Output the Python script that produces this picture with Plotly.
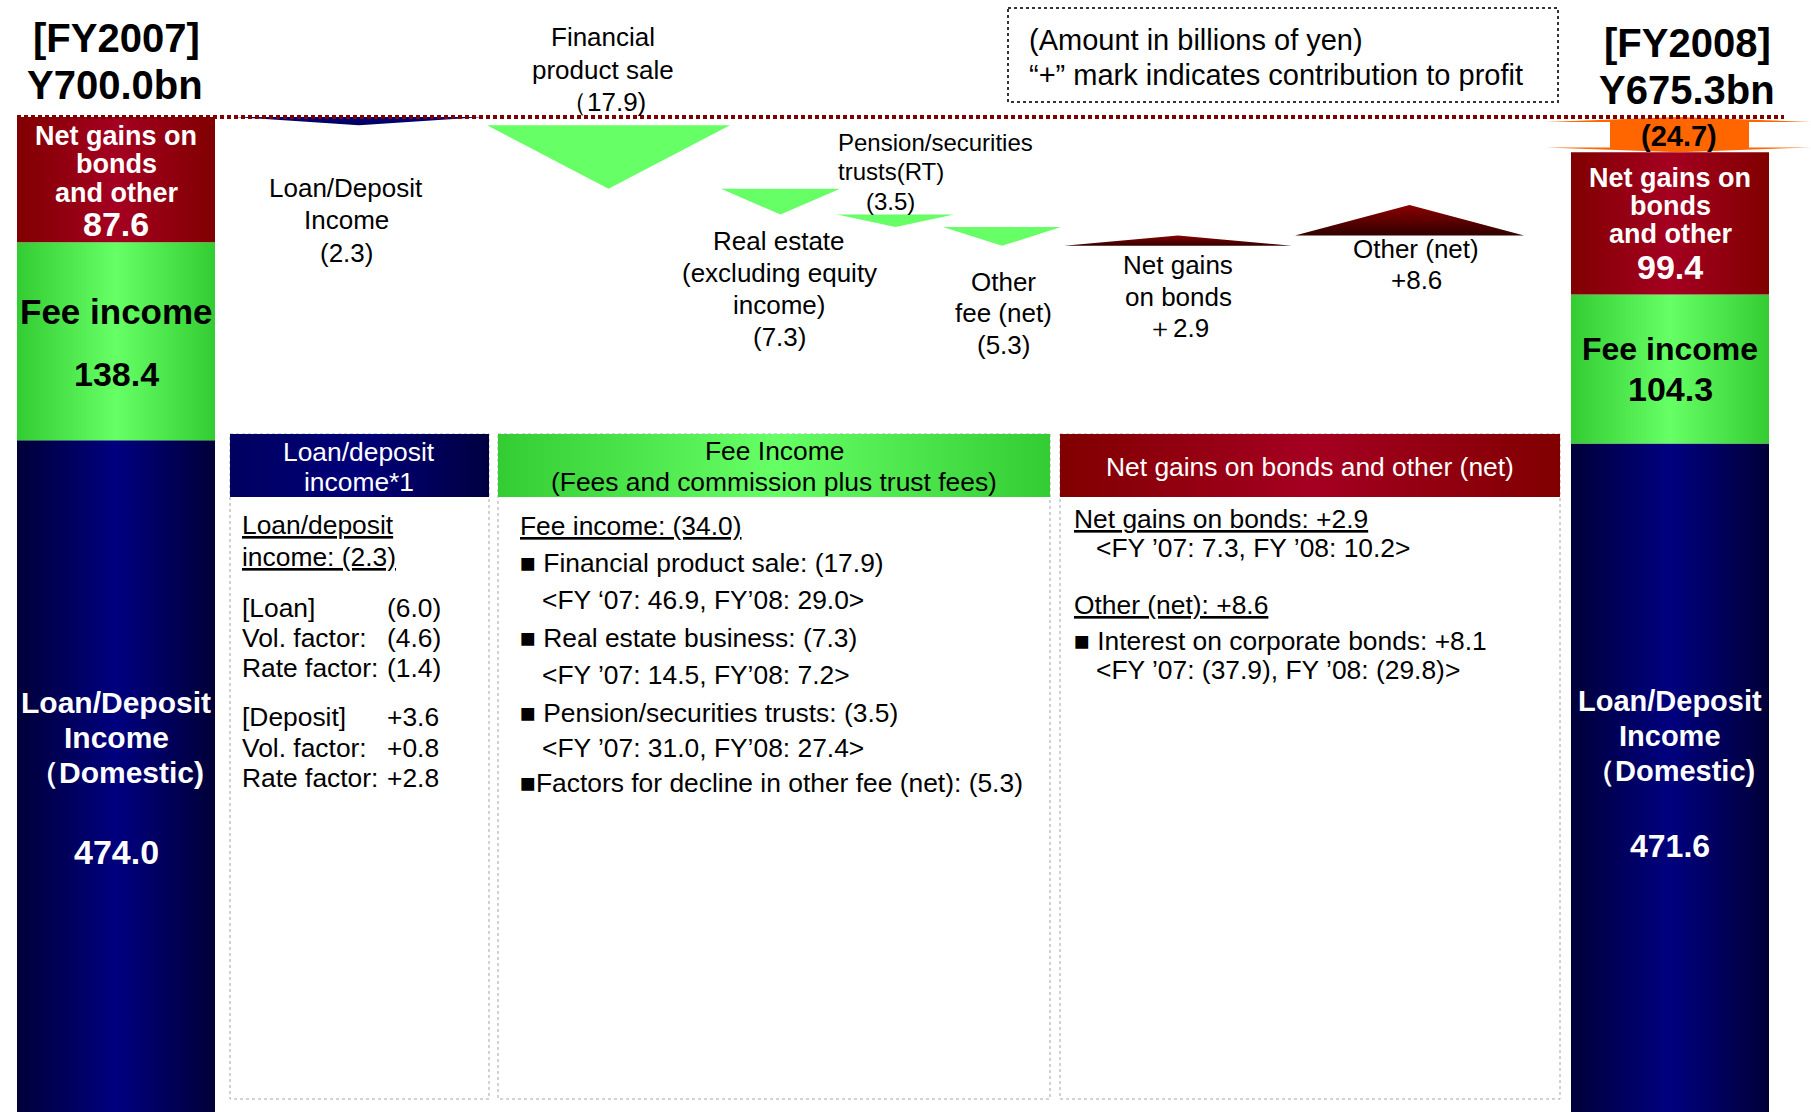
import plotly.graph_objects as go

# Net business profit bridge, FY2007 -> FY2008 (billions of yen)
years = ["[FY2007]", "[FY2008]"]
totals = [700.0, 675.3]
loan_deposit = [474.0, 471.6]
fee_income = [138.4, 104.3]
net_gains = [87.6, 99.4]

step_names = [
    ["Loan/Deposit", "Income"],
    ["Financial", "product sale"],
    ["Real estate", "(excluding equity", "income)"],
    ["Pension/securities", "trusts(RT)"],
    ["Other", "fee (net)"],
    ["Net gains", "on bonds"],
    ["Other (net)"],
]
step_values = [-2.3, -17.9, -7.3, -3.5, -5.3, 2.9, 8.6]
step_groups = ["loan", "fee", "fee", "fee", "fee", "net", "net"]
total_change = -24.7

loan_detail = ["<u>Loan/deposit</u>", "<u>income: (2.3)</u>", "[Loan]", "Vol. factor:",
               "Rate factor:", "[Deposit]", "Vol. factor:", "Rate factor:"]
loan_detail_values = ["", "", "(6.0)", "(4.6)", "(1.4)", "+3.6", "+0.8", "+2.8"]
fee_detail = [
    "<u>Fee income: (34.0)</u>",
    "■ Financial product sale: (17.9)",
    "&lt;FY ‘07: 46.9, FY’08: 29.0&gt;",
    "■ Real estate business: (7.3)",
    "&lt;FY ’07: 14.5, FY’08: 7.2&gt;",
    "■ Pension/securities trusts: (3.5)",
    "&lt;FY ’07: 31.0, FY’08: 27.4&gt;",
    "■Factors for decline in other fee (net): (5.3)",
]
net_detail = [
    "<u>Net gains on bonds: +2.9</u>",
    "&lt;FY ’07: 7.3, FY ’08: 10.2&gt;",
    "<u>Other (net): +8.6</u>",
    "■ Interest on corporate bonds: +8.1",
    "&lt;FY ’07: (37.9), FY ’08: (29.8)&gt;",
]

# ---- layout / style constants (pixels) ----
W, H = 1811, 1112
BASE_PX = 117          # pixel row of the FY2007 total line
BAR_SCALE = 1.43       # px per bn on the stacked bars
STEP_SCALE = 3.55      # px per bn on the change triangles
FONT = "Liberation Sans, Arial, sans-serif"
BODY = 26.4

bar_x = [(17, 215), (1571, 1769)]
step_x = [(234, 484), (487, 730), (721, 840), (837, 954), (943, 1061), (1064, 1292), (1295, 1524)]
step_label_x = [346, 603, 779, 836, 1003, 1178, 1416]
step_label_y = [[188, 220, 253], [37, 70, 102], [241, 273, 305, 337], [142, 171, 201],
                [282, 313, 345], [265, 297, 328], [249, 280]]
step_open = ["(", "（", "(", "(", "(", "＋", "+"]

panel_x = [(230, 489), (498, 1050), (1060, 1560)]
PANEL_TOP, PANEL_HEAD, PANEL_BOTTOM = 434, 497, 1099

NAVY = [[0, "#000038"], [0.5, "#000080"], [1, "#000038"]]
GREEN = [[0, "#33CC33"], [0.5, "#66FF66"], [1, "#33CC33"]]
RED = [[0, "#800000"], [0.5, "#A50021"], [1, "#800000"]]

fig = go.Figure()


def poly(xs, ys, yaxis="y", colorscale=None, color=None, gtype="horizontal"):
    kw = dict(x=xs, y=ys, yaxis=yaxis, mode="lines", fill="toself",
              line=dict(width=0), hoverinfo="skip", showlegend=False)
    if colorscale is not None:
        kw["fillgradient"] = dict(type=gtype, colorscale=colorscale)
    else:
        kw["fillcolor"] = color
    fig.add_trace(go.Scatter(**kw))


def label(x, y, text, size=26, color="black", bold=False, xanchor="center",
          yref="y3", yshift=0):
    if bold:
        text = f"<b>{text}</b>"
    fig.add_annotation(x=x, y=y, xref="x", yref=yref, text=text, showarrow=False,
                       xanchor=xanchor, yanchor="middle", yshift=yshift,
                       font=dict(size=size, color=color, family=FONT))


# ---- stacked bars for the two fiscal years ----
red_offsets = [[-44, -16, 13, 44], [-45, -17, 11, 44]]
fee_offsets = [[-30, 33], [-20, 20]]
fee_sizes = [35, 32]
navy_offsets = [[262, 297, 332, 412], [257, 292, 327, 402]]
navy_sizes = [[30, 30, 30, 34], [29, 29, 29, 32]]

for i in range(2):
    x0, x1 = bar_x[i]
    xc = (x0 + x1) / 2
    b1 = loan_deposit[i]
    b2 = b1 + fee_income[i]
    b3 = b2 + net_gains[i]
    poly([x0, x1, x1, x0, x0], [0, 0, b1, b1, 0], colorscale=NAVY)
    poly([x0, x1, x1, x0, x0], [b1, b1, b2, b2, b1], colorscale=GREEN)
    poly([x0, x1, x1, x0, x0], [b2, b2, b3, b3, b2], colorscale=RED)

    mid_red = (b2 + b3) / 2
    for txt, off, sz in zip(["Net gains on", "bonds", "and other", f"{net_gains[i]:.1f}"],
                            red_offsets[i], [27, 27, 27, 34]):
        label(xc, mid_red, txt, size=sz, color="white", bold=True, yref="y", yshift=-off)
    mid_fee = (b1 + b2) / 2
    for txt, off, sz in zip(["Fee income", f"{fee_income[i]:.1f}"], fee_offsets[i],
                            [fee_sizes[i], 34]):
        label(xc, mid_fee, txt, size=sz, bold=True, yref="y", yshift=-off)
    for txt, off, sz in zip(["Loan/Deposit", "Income", "（Domestic)", f"{loan_deposit[i]:.1f}"],
                            navy_offsets[i], navy_sizes[i]):
        label(xc, b1, txt, size=sz, color="white", bold=True, yref="y", yshift=-off)

# year headers
label(116, 38, years[0], size=40, bold=True)
label(115, 85, f"Y{totals[0]:.1f}bn", size=40, bold=True)
label(1687, 43, years[1], size=40, bold=True)
label(1687, 90, f"Y{totals[1]:.1f}bn", size=40, bold=True)

# ---- change triangles (waterfall of the steps) ----
level = totals[0]
for i, v in enumerate(step_values):
    x0, x1 = step_x[i]
    xm = (x0 + x1) / 2
    xs = [x0, x1, xm, x0]
    ys = [level, level, level + v, level]
    g = step_groups[i]
    if g == "loan":
        poly(xs, ys, yaxis="y2", colorscale=[[0, "#00005A"], [1, "#000080"]], gtype="vertical")
    elif g == "fee":
        poly(xs, ys, yaxis="y2", color="#66FF66")
    else:
        poly(xs, ys, yaxis="y2", colorscale=[[0, "#300000"], [1, "#8B0000"]], gtype="vertical")
    level += v

    value_txt = (f"{step_open[i]}{abs(v):.1f})" if v < 0 else f"{step_open[i]}{v:.1f}")
    lines = step_names[i] + [value_txt]
    ys_px = step_label_y[i]
    if i == 3:
        label(step_label_x[i], ys_px[0], lines[0], size=24, xanchor="left")
        label(step_label_x[i], ys_px[1], lines[1], size=24, xanchor="left")
        label(890, ys_px[2], lines[2], size=24)
    else:
        for txt, yp in zip(lines, ys_px):
            label(step_label_x[i], yp, txt)

# ---- total change arrow between the two totals ----
hi, lo = totals[0], totals[0] + total_change
head = (hi - lo) * 0.14
ac, b0, b1_, w0, w1 = 1679, 1610, 1749, 1546, 1811
poly([ac, w1, b1_, b1_, w1, ac, w0, b0, b0, w0, ac],
     [hi, hi - head, hi - head, lo + head, lo + head, lo, lo + head, lo + head,
      hi - head, hi - head, hi], color="#FF6600")
label(ac, (hi + lo) / 2, f"({abs(total_change):.1f})", size=29, bold=True, yref="y", yshift=-1)

# total line at the FY2007 level
fig.add_shape(type="line", xref="x", yref="y", x0=17, x1=1784, y0=totals[0], y1=totals[0],
              line=dict(color="#800000", width=4, dash="4px,3px"))

# ---- explanation panels ----
heads = [[[0, "#000060"], [0.5, "#00007A"], [1, "#000040"]], GREEN, RED]
for (x0, x1), cs in zip(panel_x, heads):
    fig.add_shape(type="rect", xref="x", yref="y3", x0=x0, x1=x1, y0=PANEL_TOP, y1=PANEL_BOTTOM,
                  line=dict(color="#A6A6A6", width=1, dash="dot"), layer="below")
    poly([x0, x1, x1, x0, x0], [PANEL_TOP, PANEL_TOP, PANEL_HEAD, PANEL_HEAD, PANEL_TOP],
         yaxis="y3", colorscale=cs)

label(359, 452, "Loan/deposit", size=BODY, color="white")
label(359, 482, "income*1", size=BODY, color="white")
label(774, 451, "Fee Income", size=BODY)
label(774, 482, "(Fees and commission plus trust fees)", size=BODY)
label(1310, 467, "Net gains on bonds and other (net)", size=BODY, color="white")

loan_y = [525, 557, 608, 638, 668, 717, 748, 778]
for txt, val, yp in zip(loan_detail, loan_detail_values, loan_y):
    label(240, yp, txt, size=BODY, xanchor="left")
    if val:
        label(385, yp, val, size=BODY, xanchor="left")

fee_y = [526, 563, 600, 638, 675, 713, 748, 783]
fee_indent = [0, 0, 1, 0, 1, 0, 1, 0]
for txt, yp, ind in zip(fee_detail, fee_y, fee_indent):
    label(540 if ind else 518, yp, txt, size=BODY, xanchor="left")

net_y = [519, 548, 605, 641, 670]
net_indent = [0, 1, 0, 0, 1]
for txt, yp, ind in zip(net_detail, net_y, net_indent):
    label(1094 if ind else 1072, yp, txt, size=BODY, xanchor="left")

# unit note
fig.add_shape(type="rect", xref="x", yref="y3", x0=1008, x1=1558, y0=8, y1=102,
              line=dict(color="#333333", width=2, dash="dot"))
label(1027, 40, "(Amount in billions of yen)", size=29, xanchor="left")
label(1027, 75, "“+” mark indicates contribution to profit", size=29, xanchor="left")

y_range = [totals[0] - (H - BASE_PX) / BAR_SCALE, totals[0] + BASE_PX / BAR_SCALE]
y2_range = [totals[0] - (H - BASE_PX) / STEP_SCALE, totals[0] + BASE_PX / STEP_SCALE]

fig.update_layout(
    width=W, height=H, margin=dict(l=0, r=0, t=0, b=0),
    paper_bgcolor="white", plot_bgcolor="white", showlegend=False,
    xaxis=dict(range=[0, W], visible=False, fixedrange=True),
    yaxis=dict(range=y_range, visible=False, fixedrange=True),
    yaxis2=dict(range=y2_range, overlaying="y", visible=False, fixedrange=True),
    yaxis3=dict(range=[H, 0], overlaying="y", visible=False, fixedrange=True),
)

fig.write_html("out.html")
